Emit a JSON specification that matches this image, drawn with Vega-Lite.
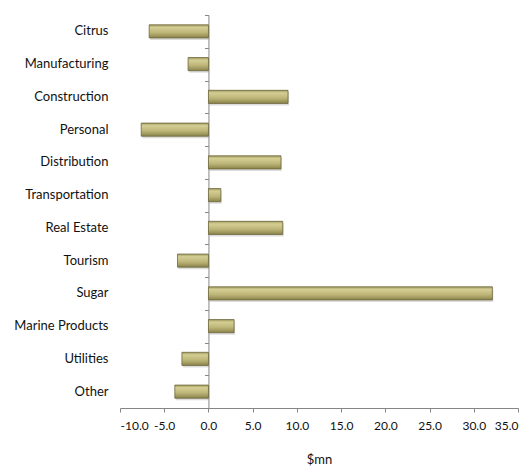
{
  "$schema": "https://vega.github.io/schema/vega-lite/v6.json",
  "autosize": "none",
  "padding": {"left": 120, "top": 15, "right": 13, "bottom": 60},
  "width": 398,
  "height": 393,
  "background": "white",
  "config": {
    "view": {"stroke": null},
    "font": "Lato",
    "axis": {"labelFont": "Lato", "titleFont": "Lato", "labelColor": "#111111", "titleColor": "#111111", "grid": false}
  },
  "data": {
    "values": [
      {"sector": "Citrus", "value": -6.7},
      {"sector": "Manufacturing", "value": -2.3},
      {"sector": "Construction", "value": 9.0},
      {"sector": "Personal", "value": -7.6},
      {"sector": "Distribution", "value": 8.2},
      {"sector": "Transportation", "value": 1.4},
      {"sector": "Real Estate", "value": 8.4},
      {"sector": "Tourism", "value": -3.5},
      {"sector": "Sugar", "value": 32.1},
      {"sector": "Marine Products", "value": 2.9},
      {"sector": "Utilities", "value": -3.0},
      {"sector": "Other", "value": -3.8}
    ]
  },
  "resolve": {"axis": {"y": "independent", "x": "independent"}},
  "layer": [
    {
      "mark": {"type": "bar", "color": "#9a9a9a", "opacity": 0.35, "yOffset": 2, "xOffset": 1, "height": {"band": 0.4}},
      "encoding": {
        "y": {"field": "sector", "type": "nominal", "sort": null, "scale": {"paddingInner": 0, "paddingOuter": 0}, "axis": null},
        "x": {"field": "value", "type": "quantitative", "scale": {"domain": [-10, 35], "nice": false, "zero": false}, "axis": null}
      }
    },
    {
      "mark": {
        "type": "bar",
        "height": {"band": 0.4},
        "stroke": "#6b663a",
        "strokeWidth": 0.8,
        "color": {
          "gradient": "linear",
          "x1": 0, "y1": 0, "x2": 0, "y2": 1,
          "stops": [
            {"offset": 0, "color": "#a39c60"},
            {"offset": 0.2, "color": "#d5ce94"},
            {"offset": 0.6, "color": "#bdb577"},
            {"offset": 1, "color": "#8a834b"}
          ]
        }
      },
      "encoding": {
        "y": {
          "field": "sector", "type": "nominal", "sort": null,
          "axis": {"orient": "left", "title": null, "domain": false, "ticks": false, "labelPadding": 12, "labelFontSize": 13}
        },
        "x": {
          "field": "value", "type": "quantitative",
          "axis": {
            "orient": "bottom",
            "title": "$mn", "titleFontSize": 13, "titleFontWeight": "normal", "titlePadding": 22,
            "values": [-10, -5, 0, 5, 10, 15, 20, 25, 30, 35],
            "labelExpr": "replace(format(datum.value, '.1f'), '\u2212', '-')",
            "labelFontSize": 12, "labelPadding": 8,
            "tickSize": 4, "tickColor": "#868686", "domainColor": "#868686"
          }
        }
      }
    },
    {
      "mark": {"type": "bar", "opacity": 0, "height": {"band": 0.4}},
      "encoding": {
        "y": {
          "field": "sector", "type": "nominal", "sort": null,
          "axis": {"orient": "left", "title": null, "labels": false, "ticks": true, "tickBand": "extent", "tickSize": 4, "tickColor": "#868686", "domain": true, "domainColor": "#868686", "offset": -88.44}
        },
        "x": {"field": "value", "type": "quantitative", "axis": null}
      }
    }
  ]
}
